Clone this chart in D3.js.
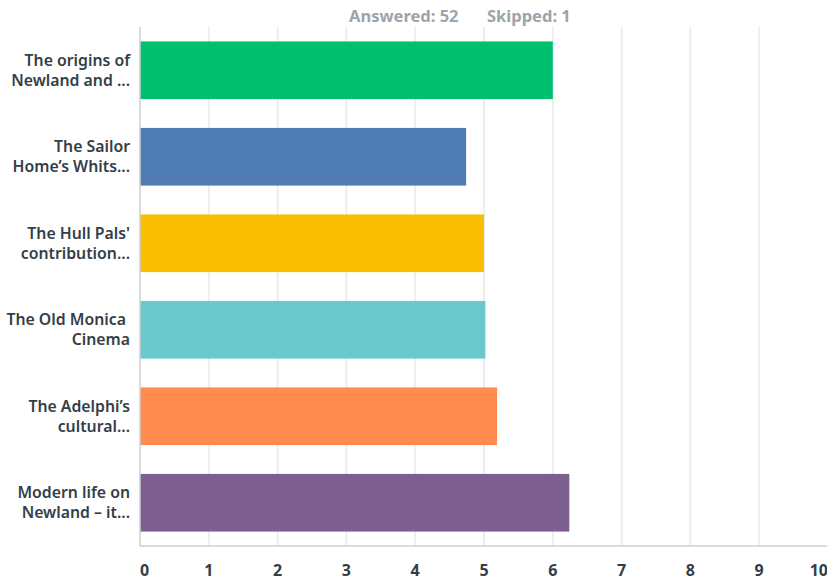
<!DOCTYPE html>
<html>
<head>
<meta charset="utf-8">
<script src="https://cdn.jsdelivr.net/npm/d3@7"></script>
<style>
  body { margin: 0; background: #fff; }
  text { font-family: 'Noto Sans', sans-serif; }
</style>
</head>
<body>
<div id="chart"></div>
<script>
const labels = [
  ['The origins of', 'Newland and ...'],
  ['The Sailor', 'Home’s Whits...'],
  ['The Hull Pals\'', 'contribution...'],
  ['The Old Monica ', 'Cinema'],
  ['The Adelphi’s', 'cultural...'],
  ['Modern life on', 'Newland – it...'],
];
const values = [6.0, 4.74, 5.0, 5.02, 5.19, 6.24];
const colors = ['#00bf6f', '#507cb6', '#f9be00', '#6bc8cd', '#ff8b4f', '#7d5e90'];
const ticks = [0, 1, 2, 3, 4, 5, 6, 7, 8, 9, 10];

const width = 827;
const height = 580;
const margin = { top: 27, right: -1, bottom: 34, left: 140 };
const w = width - margin.left - margin.right;
const h = height - margin.top - margin.bottom;

const svg = d3
  .select('#chart')
  .append('svg')
  .attr('width', width)
  .attr('height', height);

// header
const head = svg.append('g').attr('font-size', 16.5).attr('font-weight', 700).attr('fill', '#9da4aa');
head.append('text').attr('x', 349).attr('y', 22).text('Answered: 52');
head.append('text').attr('x', 487).attr('y', 22).text('Skipped: 1');

const g = svg.append('g').attr('transform', `translate(${margin.left},${margin.top})`);

const x = d3.scaleLinear().domain([0, 10]).range([0, w]);
const y = d3
  .scaleBand()
  .domain(d3.range(labels.length))
  .range([0, h])
  .paddingInner(1 / 3)
  .paddingOuter(1 / 6);

// grid
g.selectAll('.grid')
  .data(ticks.slice(1))
  .enter()
  .append('line')
  .attr('x1', (d) => x(d))
  .attr('x2', (d) => x(d))
  .attr('y1', 0)
  .attr('y2', h)
  .attr('stroke', '#ededed')
  .attr('stroke-width', 2);

g.selectAll('.bar')
  .data(values)
  .enter()
  .append('rect')
  .attr('x', 0)
  .attr('y', (d, i) => y(i))
  .attr('width', (d) => x(d))
  .attr('height', y.bandwidth())
  .attr('fill', (d, i) => colors[i]);

// axes lines
g.append('line').attr('x1', 0).attr('x2', 0).attr('y1', 0).attr('y2', h)
  .attr('stroke', '#cfcfcf').attr('stroke-width', 1.5);
g.append('line').attr('x1', 0).attr('x2', w).attr('y1', h).attr('y2', h)
  .attr('stroke', '#cfcfcf').attr('stroke-width', 1.5);

// x tick labels
g.selectAll('.tick')
  .data(ticks)
  .enter()
  .append('text')
  .attr('x', (d) => x(d))
  .attr('y', h + 30)
  .attr('text-anchor', (d, i) => (i === 0 ? 'start' : i === ticks.length - 1 ? 'end' : 'middle'))
  .attr('font-size', 16)
  .attr('font-weight', 700)
  .attr('fill', '#333e48')
  .text((d) => d);

// category labels
const lab = g.selectAll('.lab')
  .data(labels)
  .enter()
  .append('text')
  .attr('text-anchor', 'end')
  .attr('font-size', 15.8)
  .attr('font-weight', 600)
  .attr('fill', '#333e48')
  .attr('xml:space', 'preserve');
lab.each(function (d, i) {
  const cy = y(i) + y.bandwidth() / 2;
  d3.select(this)
    .selectAll('tspan')
    .data(d)
    .enter()
    .append('tspan')
    .attr('x', -10)
    .attr('y', (t, j) => cy - 10 + j * 20 + 5.5)
    .text((t) => t);
});
</script>
</body>
</html>
